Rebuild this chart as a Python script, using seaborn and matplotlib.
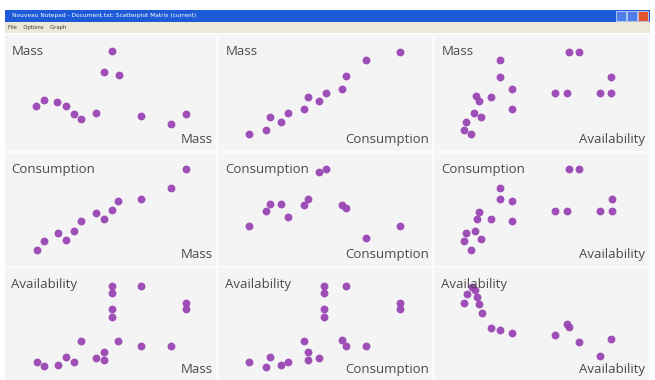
import matplotlib
matplotlib.use("Agg")
import matplotlib.pyplot as plt
from matplotlib.patches import Rectangle
import pandas as pd
import seaborn as sns

# variable names, in matrix order
variables = ["Mass", "Consumption", "Availability"]

# each panel: (x values, y values) (0-100 scale)
mass_mass_x = [50.5, 47.1, 53.8, 14.8, 18.6, 24.8, 29.0, 32.9, 36.2, 42.9, 64.3, 78.6, 85.7]
mass_mass_y = [85.8, 68.1, 65.5, 38.9, 44.2, 42.5, 38.9, 31.9, 27.4, 32.7, 30.1, 23.0, 31.9]

mass_cons_x = [14.3, 22.2, 24.1, 29.0, 32.2, 40.0, 42.0, 46.8, 50.0, 57.6, 59.5, 69.0, 85.2]
mass_cons_y = [14.8, 18.3, 28.9, 25.0, 33.0, 36.3, 46.6, 42.7, 50.2, 53.7, 64.3, 78.8, 85.6]

mass_avail_x = [30.7, 30.7, 36.0, 19.4, 20.5, 26.4, 18.3, 21.7, 36.0, 14.7, 13.6, 17.1,
                62.8, 67.8, 56.3, 62.0, 82.7, 77.5, 82.7]
mass_avail_y = [78.8, 64.0, 53.7, 47.2, 42.7, 46.6, 33.0, 28.9, 36.3, 25.0, 18.3, 14.8,
                85.6, 85.6, 50.2, 50.2, 64.0, 50.2, 50.2]

cons_mass_x = [15.1, 18.6, 24.9, 29.0, 32.9, 36.2, 42.9, 46.8, 50.5, 53.7, 64.3, 78.6, 85.7]
cons_mass_y = [14.0, 22.3, 28.8, 23.2, 31.3, 40.2, 47.0, 41.7, 49.7, 57.4, 58.9, 69.0, 85.4]

cons_cons_x = [14.3, 22.2, 24.1, 29.0, 32.2, 40.0, 42.0, 46.8, 50.0, 57.6, 59.8, 69.0, 85.2]
cons_cons_y = [35.7, 48.5, 55.1, 55.1, 43.1, 54.2, 59.6, 83.3, 85.7, 54.2, 51.2, 24.4, 35.7]

cons_avail_x = [30.7, 30.7, 36.0, 20.6, 19.9, 26.4, 36.0, 18.6, 14.7, 13.6, 21.7, 17.1,
                63.1, 67.8, 56.3, 62.0, 83.0, 77.5, 83.0]
cons_avail_y = [69.4, 58.9, 57.4, 47.6, 41.7, 41.7, 39.6, 31.3, 28.8, 22.3, 23.8, 14.0,
                85.4, 85.4, 49.1, 49.1, 58.9, 49.1, 49.1]

avail_mass_x = [50.5, 50.5, 64.3, 50.5, 50.5, 85.7, 85.7, 36.2, 53.7, 64.3, 78.6, 46.8,
                46.8, 42.9, 29.0, 32.9, 24.9, 15.1, 18.6]
avail_mass_y = [83.9, 77.9, 83.9, 63.1, 56.5, 68.5, 63.1, 34.8, 34.8, 30.4, 30.4, 25.3,
                17.9, 19.4, 20.8, 16.3, 13.4, 15.8, 12.8]

avail_cons_x = [49.5, 49.5, 59.5, 49.5, 49.5, 84.9, 84.9, 40.0, 57.6, 59.8, 69.0, 42.0,
                42.0, 46.8, 24.1, 22.2, 29.0, 32.2, 14.3]
avail_cons_y = [83.9, 77.9, 83.9, 63.1, 56.5, 68.5, 63.1, 34.8, 35.7, 30.4, 30.4, 25.3,
                17.9, 19.4, 20.8, 11.9, 13.4, 16.3, 15.8]

avail_avail_x = [17.5, 18.6, 15.0, 19.9, 13.6, 20.6, 22.0, 26.4, 30.7, 36.0, 56.3, 62.0,
                 63.1, 67.8, 82.7, 77.5]
avail_avail_y = [83.3, 80.4, 76.8, 74.4, 68.5, 67.6, 59.6, 46.2, 44.6, 42.2, 40.2, 49.7,
                 47.6, 33.6, 36.6, 21.7]

panels = [
    [(mass_mass_x, mass_mass_y), (mass_cons_x, mass_cons_y), (mass_avail_x, mass_avail_y)],
    [(cons_mass_x, cons_mass_y), (cons_cons_x, cons_cons_y), (cons_avail_x, cons_avail_y)],
    [(avail_mass_x, avail_mass_y), (avail_cons_x, avail_cons_y), (avail_avail_x, avail_avail_y)],
]

W, H = 655, 380
fig = plt.figure(figsize=(W / 100, H / 100), dpi=100)
fig.patch.set_facecolor("white")

def px_rect(x0, y0, x1, y1):
    # pixel box (top-left origin) -> figure fraction rect
    return [x0 / W, 1 - y1 / H, (x1 - x0) / W, (y1 - y0) / H]

def fig_box(x0, y0, x1, y1, color, z=-5, **kw):
    fig.patches.append(Rectangle((x0 / W, 1 - y1 / H), (x1 - x0) / W, (y1 - y0) / H,
                                 transform=fig.transFigure, facecolor=color, zorder=z, **kw))

# window chrome: title bar, menu bar, buttons, client area
fig_box(5, 10, 650, 22, "#1c5ad8")
fig_box(5, 22, 650, 33, "#ece9d8")
fig_box(5, 33, 650, 380, "#fbfbfb")
for bx, bc in [(616, "#4f7fe6"), (627, "#4f7fe6"), (638, "#e2552f")]:
    fig_box(bx, 11, bx + 10, 21, bc, z=-4, edgecolor="#dfe8fb", linewidth=0.5)
fig.text(12 / W, 1 - 16 / H, "Nouveau Notepad - Document.txt: Scatterplot Matrix (current)",
         color="white", fontsize=4.2, va="center", ha="left")
fig.text(8 / W, 1 - 27.5 / H, "File    Options    Graph", color="#333333", fontsize=3.8,
         va="center", ha="left")

col_edges = [(5, 216), (219, 432), (435, 648)]
row_edges = [(35, 151), (153, 266), (268, 380)]

for r in range(3):
    for c in range(3):
        x0, x1 = col_edges[c]
        y0, y1 = row_edges[r]
        ax = fig.add_axes(px_rect(x0, y0, x1, y1))
        ax.set_facecolor("#f4f4f4")
        xs, ys = panels[r][c]
        df = pd.DataFrame({"x": xs, "y": ys})
        sns.scatterplot(data=df, x="x", y="y", ax=ax, color="#9a45b4", s=32,
                        linewidth=0, alpha=0.95)
        ax.set_xlim(0, 100)
        ax.set_ylim(0, 100)
        ax.set_xticks([])
        ax.set_yticks([])
        ax.set_xlabel("")
        ax.set_ylabel("")
        for sp in ax.spines.values():
            sp.set_visible(False)
        ax.text(0.03, 0.91, variables[r], transform=ax.transAxes, ha="left", va="top",
                fontsize=9.5, color="#4a4a4a", family="Open Sans")
        ax.text(0.985, 0.04, variables[c], transform=ax.transAxes, ha="right", va="bottom",
                fontsize=9.5, color="#4a4a4a", family="Open Sans")

fig.savefig("out.png", dpi=100)
